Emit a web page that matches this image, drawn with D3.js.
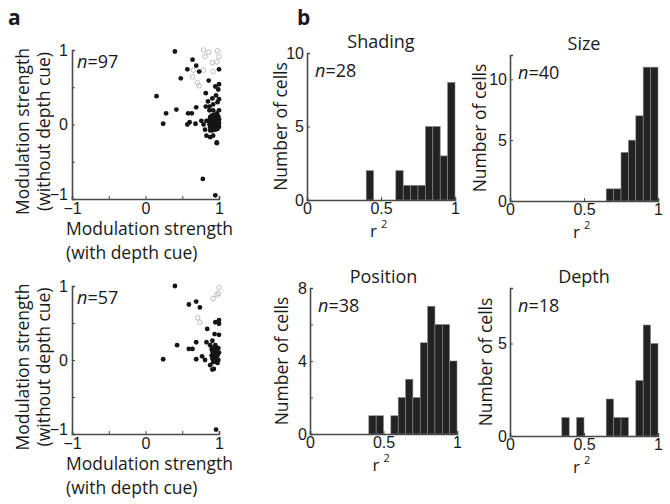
<!DOCTYPE html>
<html><head><meta charset="utf-8">
<script src="https://cdn.jsdelivr.net/npm/d3@7/dist/d3.min.js"></script>
<style>
body{margin:0;background:#fff;}
svg{display:block;font-family:"Open Sans","Noto Sans",sans-serif;}
</style></head>
<body><svg id="c" width="670" height="504"></svg>
<script>
// ---- Data ----
// Panel a, top (n=97): filled points
const topFilledX = [0.40,0.64,0.69,0.57,0.73,0.48,0.15,0.42,0.28,0.24,0.58,0.63,0.69,0.57,0.60,0.68,0.78,0.95,0.97,
  1.00,0.86,1.00,0.95,0.99,0.82,0.96,0.91,1.00,0.85,0.98,0.92,0.82,0.87,0.87,0.92,1.00,0.97,0.76,0.79,0.83,
  0.81,0.88,0.83,0.88,0.92,0.97,
  0.88,0.90,0.93,0.96,0.99,0.87,0.89,0.91,0.94,0.97,1.00,0.88,0.90,0.92,0.95,0.98,1.00,0.87,0.89,0.91,0.93,0.96,0.99,
  0.88,0.90,0.92,0.94,0.97,1.00,0.91,0.95,0.98];
const topFilledY = [0.98,0.87,0.79,0.74,0.71,0.62,0.38,0.20,0.15,0.01,0.15,0.15,0.23,0.00,0.03,0.01,-0.73,-0.95,-0.25,
  0.74,0.59,0.54,0.51,0.47,0.42,0.39,0.35,0.34,0.31,0.30,0.27,0.24,0.24,0.19,0.19,0.19,0.15,0.05,0.00,0.05,
  -0.07,-0.08,-0.15,-0.17,-0.15,-0.24,
  0.10,0.12,0.13,0.12,0.11,0.06,0.07,0.08,0.07,0.08,0.07,0.03,0.04,0.03,0.04,0.03,0.02,0.00,0.00,-0.01,0.00,0.00,-0.01,
  -0.04,-0.03,-0.05,-0.03,-0.04,-0.03,-0.08,-0.07,-0.06];
// Panel a, top: open points
const topOpenX = [0.79,0.86,0.98,1.00,0.81,0.91,0.97,0.65,0.79,0.92,0.64,0.71,0.73];
const topOpenY = [1.00,0.97,0.99,0.91,0.91,0.83,0.84,0.73,0.73,0.71,0.64,0.56,0.52];
// Panel a, bottom (n=57)
const botFilledX = [0.40,0.69,0.59,0.74,0.95,1.00,1.00,0.84,0.94,1.00,0.91,0.83,0.69,0.43,0.59,0.64,0.88,0.95,0.24,0.69,
  0.77,0.81,0.88,0.91,0.93,0.96,
  0.90,0.93,0.96,0.99,0.91,0.94,0.97,1.00,0.90,0.92,0.95,0.98,0.91,0.93,0.96,0.99,0.92,0.95,0.98];
const botFilledY = [1.00,0.79,0.75,0.71,0.51,0.54,0.49,0.42,0.35,0.34,0.26,0.24,0.24,0.20,0.15,0.15,0.20,0.20,0.01,0.01,
  0.05,0.00,-0.07,-0.13,-0.12,-0.94,
  0.15,0.16,0.14,0.16,0.11,0.10,0.11,0.10,0.06,0.07,0.05,0.06,0.02,0.01,0.02,0.00,-0.03,-0.02,-0.04];
const botOpenX = [1.00,0.99,0.97,0.92,0.71,0.74];
const botOpenY = [0.98,0.90,0.88,0.83,0.57,0.51];

// Panel b histograms: bin starts (width 0.05) and counts
const binStarts = [0.00,0.05,0.10,0.15,0.20,0.25,0.30,0.35,0.40,0.45,0.50,0.55,0.60,0.65,0.70,0.75,0.80,0.85,0.90,0.95];
const shadingCounts  = [0,0,0,0,0,0,0,0,2,0,0,0,2,1,1,1,5,5,3,8];
const sizeCounts     = [0,0,0,0,0,0,0,0,0,0,0,0,0,1,1,4,5,7,11,11];
const positionCounts = [0,0,0,0,0,0,0,0,1,1,0,1,2,3,2,5,7,6,6,4];
const depthCounts    = [0,0,0,0,0,0,0,1,0,1,0,0,0,2,1,1,0,3,6,5];

const scatterTicks = [-1,-0.5,0,0.5,1];
const scatterTickLabels = ["\u22121","","0","","1"];

const svg = d3.select("#c");
const axisColor = "#4a4a4a";
const ink = "#1a1a1a";
const labelFont = 17.5;
const tickFont = 16;

// ---- Panel letters ----
svg.append("text").attr("x",8).attr("y",25).attr("font-size",21).attr("font-weight","bold").attr("fill",ink).text("a");
svg.append("text").attr("x",297).attr("y",25).attr("font-size",21).attr("font-weight","bold").attr("fill",ink).text("b");

function styleAxis(a){
  a.select(".domain").attr("stroke",axisColor).attr("stroke-width",1.6);
  a.selectAll(".tick line").attr("stroke",axisColor);
  a.selectAll(".tick text").attr("font-size",tickFont).attr("fill",ink);
}

function scatterPanel(cfg){
  const x = d3.scaleLinear().domain([-1,1]).range([72,219]);
  const y = d3.scaleLinear().domain([-1,1]).range([cfg.yb,cfg.yt]);
  const g = svg.append("g");
  const xa = d3.axisBottom(x).tickValues(scatterTicks).tickSize(-3).tickPadding(4)
    .tickFormat((d,i)=>scatterTickLabels[i]);
  const ya = d3.axisLeft(y).tickValues(scatterTicks).tickSize(-3).tickPadding(4)
    .tickFormat((d,i)=>scatterTickLabels[i]);
  const gx = g.append("g").attr("transform",`translate(0,${cfg.yb})`).call(xa);
  const gy = g.append("g").attr("transform",`translate(72,0)`).call(ya);
  styleAxis(gx); styleAxis(gy);
  gx.selectAll(".tick text").attr("dy","0.66em");
  gy.selectAll(".tick text").filter(d=>d===-1).attr("dy","0.05em");
  // points
  g.selectAll(".op").data(cfg.ox.map((v,i)=>[v,cfg.oy[i]])).join("circle")
    .attr("cx",d=>x(d[0])).attr("cy",d=>y(d[1])).attr("r",2.3)
    .attr("fill","none").attr("stroke","#b0b0b0").attr("stroke-width",0.8);
  g.selectAll(".fp").data(cfg.fx.map((v,i)=>[v,cfg.fy[i]])).join("circle")
    .attr("cx",d=>x(d[0])).attr("cy",d=>y(d[1])).attr("r",2.4).attr("fill","#151515");
  // n label
  const t = g.append("text").attr("x",77).attr("y",cfg.yt+18).attr("font-size",18).attr("fill",ink);
  t.append("tspan").attr("font-style","italic").text("n");
  t.append("tspan").text("="+cfg.n);
  // x label
  g.append("text").attr("x",66).attr("y",cfg.yb+36).attr("font-size",labelFont).attr("fill",ink).text("Modulation strength");
  g.append("text").attr("x",66).attr("y",cfg.yb+60).attr("font-size",labelFont).attr("fill",ink).text("(with depth cue)");
  // y label
  const cy = (cfg.yt+cfg.yb)/2 + 7;
  g.append("text").attr("transform",`translate(29,${cy}) rotate(-90)`).attr("text-anchor","middle")
    .attr("font-size",labelFont).attr("fill",ink).text("Modulation strength");
  g.append("text").attr("transform",`translate(50,${cy}) rotate(-90)`).attr("text-anchor","middle")
    .attr("font-size",labelFont).attr("fill",ink).text("(without depth cue)");
}

scatterPanel({yt:50,yb:199,fx:topFilledX,fy:topFilledY,ox:topOpenX,oy:topOpenY,n:97});
scatterPanel({yt:286,yb:434,fx:botFilledX,fy:botFilledY,ox:botOpenX,oy:botOpenY,n:57});

function histPanel(cfg){
  const x = d3.scaleLinear().domain([0,1]).range([cfg.x0,cfg.x1]);
  const y = d3.scaleLinear().domain([0,cfg.ymax]).range([cfg.y0,cfg.y1]);
  const g = svg.append("g");
  const data = binStarts.map((b,i)=>({b,c:cfg.counts[i]})).filter(d=>d.c>0);
  g.selectAll("rect").data(data).join("rect")
    .attr("x",d=>x(d.b)).attr("width",d=>x(d.b+0.05)-x(d.b))
    .attr("y",d=>y(d.c)).attr("height",d=>y(0)-y(d.c))
    .attr("fill","#222").attr("stroke","#8a8a8a").attr("stroke-width",0.6);
  const xa = d3.axisBottom(x).tickValues([0,0.5,1]).tickSize(-3).tickPadding(4)
    .tickFormat(d=>d===0.5?"0.5":String(d));
  const ya = d3.axisLeft(y).tickValues(cfg.ticks).tickSize(-3).tickPadding(3)
    .tickFormat(d=>cfg.labels.includes(d)?String(d):"");
  const gx = g.append("g").attr("transform",`translate(0,${cfg.y0})`).call(xa);
  const gy = g.append("g").attr("transform",`translate(${cfg.x0},0)`).call(ya);
  styleAxis(gx); styleAxis(gy);
  gx.selectAll(".tick text").attr("dy","0.62em");
  // title
  g.append("text").attr("x",(cfg.x0+cfg.x1)/2).attr("y",cfg.y1-5).attr("text-anchor","middle")
    .attr("font-size",18).attr("fill",ink).text(cfg.title);
  // n label
  const t = g.append("text").attr("x",cfg.x0+8).attr("y",cfg.y1+24).attr("font-size",18).attr("fill",ink);
  t.append("tspan").attr("font-style","italic").text("n");
  t.append("tspan").text("="+cfg.n);
  // y label
  g.append("text").attr("transform",`translate(${cfg.x0-cfg.ylabOff},${(cfg.y0+cfg.y1)/2}) rotate(-90)`)
    .attr("text-anchor","middle").attr("font-size",labelFont).attr("fill",ink).text("Number of cells");
  // x label r^2
  const xl = g.append("text").attr("x",(cfg.x0+cfg.x1)/2 - 11).attr("y",cfg.y0+37).attr("font-size",17).attr("fill",ink);
  xl.append("tspan").text("r");
  xl.append("tspan").attr("dx",4).attr("dy",-9).attr("font-size",11).text("2");
}

histPanel({title:"Shading",counts:shadingCounts,x0:307,x1:455,y0:200,y1:53,ymax:10,ticks:[0,5,10],labels:[0,5,10],n:28,ylabOff:20});
histPanel({title:"Size",counts:sizeCounts,x0:510,x1:658,y0:201,y1:55,ymax:12,ticks:[0,5,10],labels:[0,5,10],n:40,ylabOff:24});
histPanel({title:"Position",counts:positionCounts,x0:310,x1:457,y0:434,y1:288,ymax:8,ticks:[0,2,4,6,8],labels:[0,4,8],n:38,ylabOff:22});
histPanel({title:"Depth",counts:depthCounts,x0:510,x1:658,y0:436,y1:288,ymax:8,ticks:[0,5],labels:[0,5],n:18,ylabOff:18});
</script></body></html>
